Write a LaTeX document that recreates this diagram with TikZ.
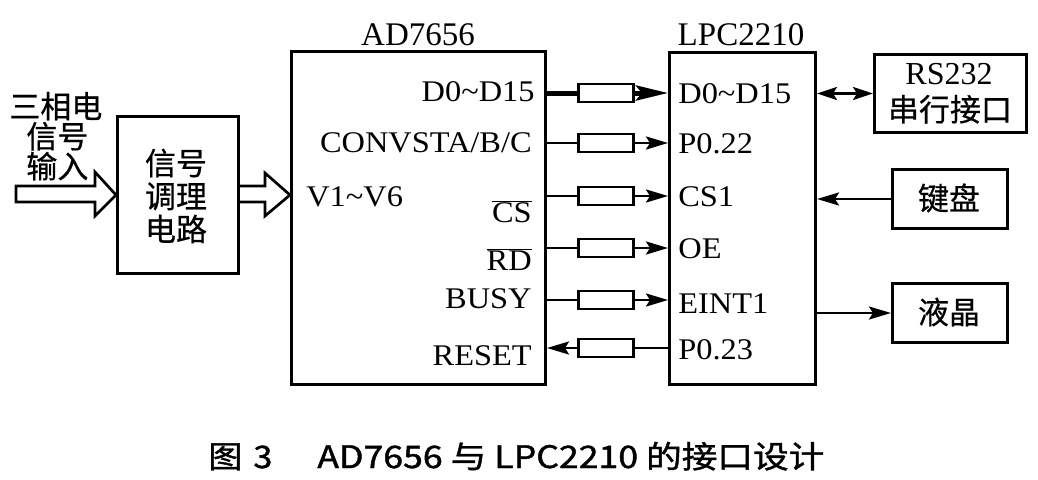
\documentclass[tikz,border=0pt]{standalone}
\usepackage{fontspec}
\setmainfont{Liberation Serif}
\newfontfamily\pinfont{Liberation Serif}[FakeStretch=1.08]
\newfontfamily\cjk{Noto Sans CJK SC}[FakeBold=0.6]
\newfontfamily\capfont{Noto Sans CJK SC}[FakeBold=1.2]
\usetikzlibrary{arrows.meta}
\begin{document}
\begin{tikzpicture}[x=1pt,y=-1pt,line width=2.7pt,
  box/.style={draw,line width=3pt,inner sep=0pt,anchor=north west},
  res/.style={draw,line width=2.7pt,inner sep=0pt,minimum width=55pt,minimum height=18pt},
  pin/.style={font=\pinfont\fontsize{30}{32}\selectfont,inner sep=0pt},
  ttl/.style={font=\fontsize{33}{36}\selectfont,inner sep=0pt},
  cj/.style={font=\cjk\fontsize{31}{34}\selectfont,inner sep=0pt},
  arr/.style={-{Stealth[length=22pt,width=13pt,inset=4pt]}},
  larr/.style={{Stealth[length=22pt,width=13pt,inset=4pt]}-}]
\useasboundingbox (0,0) rectangle (1038,479);
% boxes
\node[box,minimum width=254pt,minimum height=333pt] (ad) at (290,50) {};
\node[box,minimum width=146pt,minimum height=332pt] (lpc) at (668,51) {};
\node[box,minimum width=121pt,minimum height=157pt] (sig) at (116,115) {};
\node[box,minimum width=152pt,minimum height=78pt] (rs) at (873,53) {};
\node[box,minimum width=115pt,minimum height=59pt] (kb) at (891,168) {};
\node[box,minimum width=115pt,minimum height=59pt] (lcd) at (891,282) {};
% titles
\node[ttl,anchor=base] (adt) at (418,45) {AD7656};
\node[ttl,anchor=base] (lpct) at (741,45) {LPC2210};
% box texts
\node[cj,align=center,text width=120pt] (sigt) at (176,196) {信号\\[-1pt]调理\\[-1pt]电路};
\node[cj,anchor=base,font=\fontsize{32}{34}\selectfont] (rs1) at (949,84) {RS232};
\node[cj,anchor=base] (rs2) at (950,121) {串行接口};
\node[cj] (kbt) at (949,198) {键盘};
\node[cj] (lcdt) at (949,312) {液晶};
\node[cj,anchor=base west,font=\cjk\fontsize{31}{32}\selectfont] (in1) at (8,118) {三相电};
\node[cj,anchor=base west,font=\cjk\fontsize{31}{32}\selectfont] (in2) at (25,148) {信号};
\node[cj,anchor=base west,font=\cjk\fontsize{31}{32}\selectfont] (in3) at (25,178) {输入};
% AD pins
\node[pin,anchor=base east] (a1) at (536,101) {D0\char`~D15};
\node[pin,anchor=base east] (a2) at (533,152) {CONVSTA/B/C};
\node[pin,anchor=base east] (a3) at (533,222) {$\overline{\hbox{CS}}$};
\node[pin,anchor=base east] (a4) at (533,270) {$\overline{\hbox{RD}}$};
\node[pin,anchor=base east] (a5) at (533,308) {BUSY};
\node[pin,anchor=base east] (a6) at (533,365) {RESET};
\node[pin,anchor=base west] (v) at (305,206) {V1\char`~V6};
% LPC pins
\node[pin,anchor=base west] (b1) at (677,103) {D0\char`~D15};
\node[pin,anchor=base west] (b2) at (677,153) {P0.22};
\node[pin,anchor=base west] (b3) at (677,206) {CS1};
\node[pin,anchor=base west] (b4) at (677,258) {OE};
\node[pin,anchor=base west] (b5) at (677,313) {EINT1};
\node[pin,anchor=base west] (b6) at (677,359) {P0.23};
% resistors
\node[res] (r1) at (606,93) {};
\node[res] (r2) at (606,143) {};
\node[res] (r3) at (606,196) {};
\node[res] (r4) at (606,248) {};
\node[res] (r5) at (606,300) {};
\node[res] (r6) at (606,348) {};
% connectors
\draw[line width=5pt] (r1.west -| ad.east) -- (r1.west);
\draw[line width=5pt,-{Stealth[length=32pt,width=15pt,inset=6pt]}] (r1.east) -- (r1.east -| lpc.west);
\foreach \r in {r2,r3,r4,r5}{
  \draw (\r.west -| ad.east) -- (\r.west);
  \draw[arr] (\r.east) -- (\r.east -| lpc.west);
}
\draw[larr] (r6.west -| ad.east) -- (r6.west);
\draw (r6.east) -- (r6.east -| lpc.west);
\draw[{Stealth[length=20pt,width=13pt,inset=4pt]}-{Stealth[length=20pt,width=13pt,inset=4pt]}] (rs.west -| lpc.east) -- (rs.west);
\draw[larr] (kb.west -| lpc.east) -- (kb.west);
\draw[arr] (lcd.west -| lpc.east) -- (lcd.west);
% hollow arrows
\draw[line width=2.7pt,line join=miter] (16,186) -- (95,186) -- (95,172) -- (sig.west) -- (95,216) -- (95,202) -- (16,202) -- cycle;
\draw[line width=2.7pt,line join=miter] (237,186) -- (265,186) -- (265,173) -- (ad.west |- sig.east) -- (265,216) -- (265,202) -- (237,202);
% caption
\node[font=\capfont\fontsize{31}{34}\selectfont,anchor=base west,inner sep=0pt] (cap1) at (207,468) {\scalebox{1.1}[1]{图\hspace{10pt}3}};
\node[font=\capfont\fontsize{31}{34}\selectfont,anchor=base west,inner sep=0pt] (cap2) at (316,468) {\scalebox{1.15}[1]{AD7656 与 LPC2210 的接口设计}};
\end{tikzpicture}
\end{document}
